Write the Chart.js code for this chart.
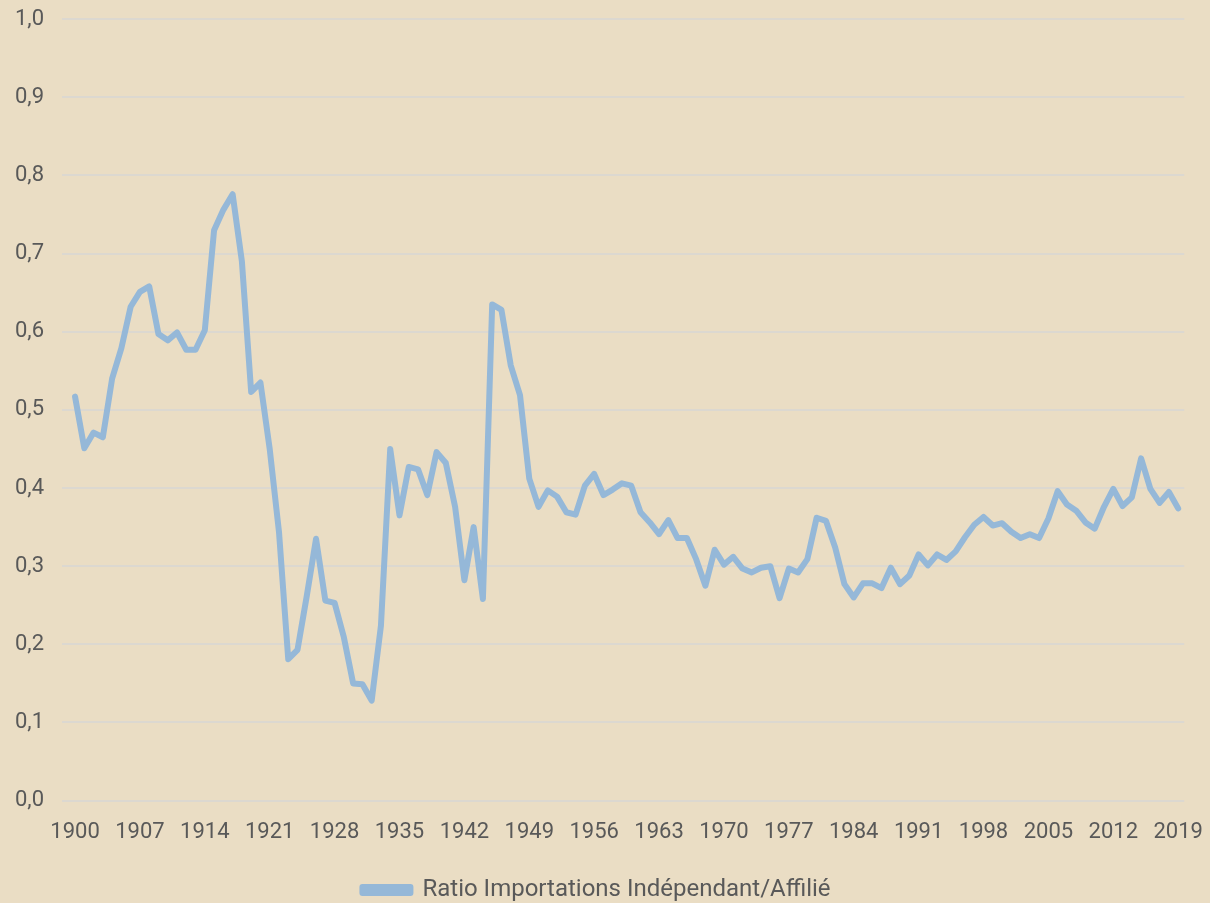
<!DOCTYPE html>
<html>
<head>
<meta charset="utf-8">
<script src="https://cdn.jsdelivr.net/npm/chart.js@4.4.1/dist/chart.umd.min.js"></script>
<style>
  html, body { margin: 0; padding: 0; background: #eaddc4; overflow: hidden; }
  #wrap { width: 1214px; height: 913px; margin-top: -12px; }
</style>
</head>
<body>
<div id="wrap"><canvas id="ratioChart"></canvas></div>
<script>
// années et ratio
const years = [];
for (let y = 1900; y <= 2019; y++) years.push(y);

const ratio = [
  0.517, 0.451, 0.471, 0.465, 0.540, 0.579, 0.632, 0.651, 0.658, 0.597,
  0.589, 0.599, 0.577, 0.577, 0.602, 0.730, 0.756, 0.776, 0.690, 0.523,
  0.535, 0.450, 0.344, 0.181, 0.193, 0.262, 0.335, 0.256, 0.253, 0.209,
  0.150, 0.149, 0.128, 0.224, 0.450, 0.365, 0.427, 0.424, 0.391, 0.446,
  0.432, 0.376, 0.282, 0.350, 0.258, 0.635, 0.628, 0.557, 0.519, 0.412,
  0.376, 0.397, 0.389, 0.369, 0.366, 0.403, 0.418, 0.391, 0.398, 0.406,
  0.403, 0.369, 0.356, 0.341, 0.359, 0.336, 0.336, 0.309, 0.275, 0.321,
  0.302, 0.312, 0.297, 0.292, 0.298, 0.300, 0.259, 0.297, 0.292, 0.309,
  0.362, 0.358, 0.324, 0.277, 0.260, 0.278, 0.278, 0.272, 0.298, 0.277,
  0.288, 0.315, 0.301, 0.315, 0.308, 0.319, 0.337, 0.353, 0.363, 0.352,
  0.355, 0.344, 0.336, 0.341, 0.336, 0.361, 0.396, 0.379, 0.371, 0.356,
  0.348, 0.376, 0.399, 0.377, 0.388, 0.438, 0.399, 0.381, 0.395, 0.374
];

// étiquettes de l'axe X (tous les 7 ans)
const xTickYears = [1900, 1907, 1914, 1921, 1928, 1935, 1942, 1949, 1956,
  1963, 1970, 1977, 1984, 1991, 1998, 2005, 2012, 2019];
const yTicks = [0, 0.1, 0.2, 0.3, 0.4, 0.5, 0.6, 0.7, 0.8, 0.9, 1.0];

const seriesLabel = 'Ratio Importations Indépendant/Affilié';
const lineColor = '#95b8d8';
const textColor = '#595959';
const gridColor = '#dcd8d0';
const fontFamily = 'Roboto, "Liberation Sans", sans-serif';

const ctx = document.getElementById('ratioChart').getContext('2d');

new Chart(ctx, {
  type: 'line',
  data: {
    datasets: [{
      label: seriesLabel,
      data: years.map((y, i) => ({ x: y, y: ratio[i] })),
      borderColor: lineColor,
      backgroundColor: lineColor,
      borderWidth: 6,
      borderJoinStyle: 'round',
      borderCapStyle: 'round',
      pointRadius: 0,
      tension: 0
    }]
  },
  options: {
    responsive: true,
    maintainAspectRatio: false,
    animation: false,
    layout: { padding: { top: -4, right: 18, left: -3, bottom: -11 } },
    scales: {
      x: {
        type: 'linear',
        min: 1898.6,
        max: 2019.65,
        afterBuildTicks: axis => { axis.ticks = xTickYears.map(v => ({ value: v })); },
        grid: { display: false },
        border: { display: false },
        ticks: {
          color: textColor,
          font: { family: fontFamily, size: 22 },
          padding: 11,
          maxRotation: 0,
          autoSkip: false,
          callback: v => String(v)
        }
      },
      y: {
        min: 0,
        max: 1,
        afterBuildTicks: axis => { axis.ticks = yTicks.map(v => ({ value: v })); },
        grid: { color: gridColor, lineWidth: 2, drawTicks: false },
        border: { display: false },
        ticks: {
          color: textColor,
          font: { family: fontFamily, size: 22 },
          padding: 18,
          callback: v => v.toFixed(1).replace('.', ',')
        }
      }
    },
    plugins: {
      legend: {
        position: 'bottom',
        labels: {
          color: textColor,
          font: { family: fontFamily, size: 24 },
          boxWidth: 48,
          boxHeight: 6,
          padding: 21
        }
      },
      tooltip: { enabled: false }
    }
  }
});
</script>
</body>
</html>
